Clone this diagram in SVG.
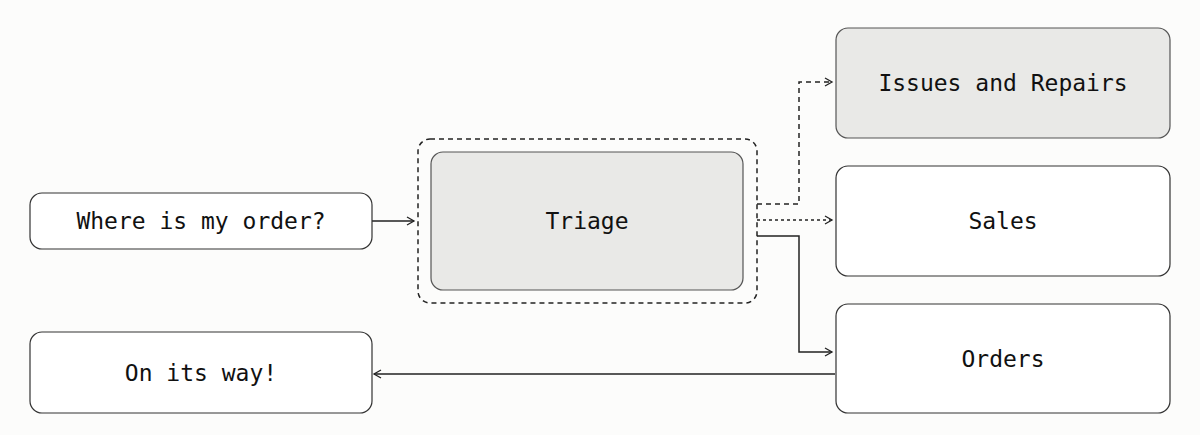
<svg xmlns="http://www.w3.org/2000/svg" width="1200" height="435" viewBox="0 0 1200 435">
<style>
.n{fill:#fff;stroke:#333;stroke-width:1.2}
.g{fill:#e9e9e7;stroke:#555;stroke-width:1.2}
text{font-family:"DejaVu Sans Mono","Liberation Mono",monospace;font-size:23px;fill:#111;text-anchor:middle;dominant-baseline:central}
.c{fill:none;stroke:#222;stroke-width:1.5}
.d{stroke-dasharray:5 4}
.f{stroke-dasharray:3 3}
</style>
<defs><marker id="a" markerWidth="10" markerHeight="10" refX="8" refY="5" orient="auto" markerUnits="userSpaceOnUse"><path d="M1,1 L8,5 L1,9" fill="none" stroke="#222" stroke-width="1.3"/></marker></defs>
<rect width="1200" height="435" fill="#fcfcfb"/>
<g id="connectors">
<path class="c" d="M372,221 H414" marker-end="url(#a)"/>
<path class="c d" d="M757,204 H799 V82 H832" marker-end="url(#a)"/>
<path class="c f" d="M757,220 H832" marker-end="url(#a)"/>
<path class="c" d="M757,236 H799 V352 H832" marker-end="url(#a)"/>
<path class="c" d="M835,374 H374" marker-end="url(#a)"/>
</g>
<g id="where"><rect class="n" x="30" y="193" width="342" height="56" rx="12"/><text x="201" y="221">Where is my order?</text></g>
<g id="onway"><rect class="n" x="30" y="332" width="342" height="81" rx="12"/><text x="201" y="373">On its way!</text></g>
<g id="triage"><rect x="418" y="139" width="339" height="164" rx="12" fill="none" stroke="#222" stroke-width="1.5" stroke-dasharray="5 4"/><rect class="g" x="431" y="152" width="312" height="138" rx="12"/><text x="587" y="221">Triage</text></g>
<g id="issues"><rect class="g" x="836" y="28" width="334" height="110" rx="12"/><text x="1003" y="83">Issues and Repairs</text></g>
<g id="sales"><rect class="n" x="836" y="166" width="334" height="110" rx="12"/><text x="1003" y="221">Sales</text></g>
<g id="orders"><rect class="n" x="836" y="304" width="334" height="109" rx="12"/><text x="1003" y="359">Orders</text></g>
</svg>
